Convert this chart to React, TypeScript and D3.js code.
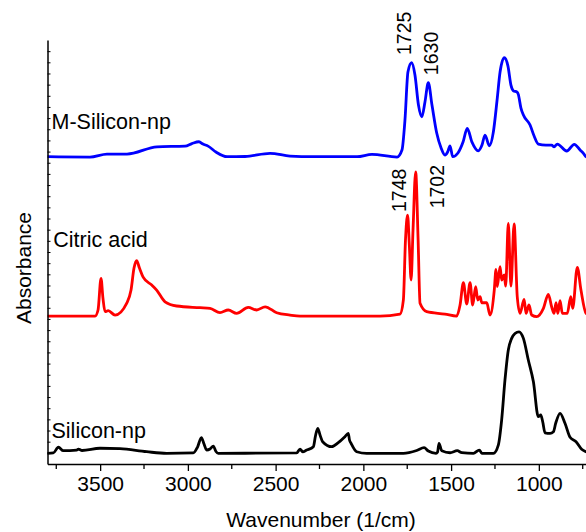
import { useEffect, useRef } from "react";
import * as d3 from "d3";

// [wavenumber (1/cm), absorbance, offset included]
const mSiliconNp: [number, number][] = [
    [3800, 2.754], [3558, 2.751], [3461, 2.778], [3347, 2.778], [3176, 2.843],
    [3016, 2.849], [2977, 2.872], [2937, 2.888], [2914, 2.867], [2885, 2.849],
    [2840, 2.796], [2777, 2.754], [2674, 2.756], [2532, 2.784], [2418, 2.76],
    [2287, 2.754], [2036, 2.754], [1951, 2.775], [1808, 2.751], [1780, 2.814],
    [1763, 3.082], [1746, 3.513], [1725, 3.596], [1706, 3.486], [1686, 3.217],
    [1667, 3.112], [1649, 3.244], [1630, 3.417], [1609, 3.217], [1582, 2.966],
    [1557, 2.832], [1535, 2.769], [1520, 2.796], [1506, 2.852], [1491, 2.754],
    [1461, 2.787], [1432, 2.885], [1408, 3.008], [1381, 2.885], [1345, 2.807],
    [1324, 2.858], [1307, 2.948], [1282, 2.852], [1259, 2.978], [1238, 3.262],
    [1221, 3.513], [1197, 3.641], [1176, 3.566], [1159, 3.396], [1145, 3.345],
    [1124, 3.333], [1117, 3.313], [1102, 3.19], [1088, 3.127], [1050, 3.038],
    [1027, 2.939], [1003, 2.867], [960, 2.858], [927, 2.858], [913, 2.843],
    [895, 2.867], [841, 2.805], [798, 2.865], [765, 2.814], [746, 2.784],
    [731, 2.754], [700, 2.745], [650, 2.745],
];

const citricAcid: [number, number][] = [
    [3800, 1.326], [3529, 1.326], [3512, 1.38], [3495, 1.664], [3484, 1.487],
    [3472, 1.365], [3454, 1.374], [3415, 1.335], [3349, 1.44], [3324, 1.559],
    [3307, 1.756], [3292, 1.822], [3276, 1.756], [3254, 1.673], [3206, 1.604],
    [3178, 1.559], [3130, 1.454], [3064, 1.416], [2931, 1.401], [2874, 1.395],
    [2817, 1.356], [2770, 1.38], [2722, 1.35], [2656, 1.404], [2608, 1.38],
    [2560, 1.409], [2494, 1.356], [2418, 1.335], [2361, 1.326], [1905, 1.326],
    [1791, 1.344], [1772, 1.47], [1760, 2.007], [1748, 2.231], [1738, 1.962],
    [1728, 1.649], [1717, 2.097], [1702, 2.619], [1688, 2.007], [1677, 1.44],
    [1639, 1.365], [1535, 1.344], [1468, 1.326], [1449, 1.425], [1430, 1.625],
    [1411, 1.434], [1392, 1.625], [1377, 1.425], [1360, 1.589], [1348, 1.47],
    [1335, 1.499], [1325, 1.445], [1297, 1.445], [1278, 1.335], [1254, 1.559],
    [1244, 1.745], [1237, 1.589], [1221, 1.768], [1212, 1.649], [1197, 1.694],
    [1189, 1.595], [1174, 2.157], [1159, 1.595], [1141, 2.151], [1123, 1.499],
    [1107, 1.35], [1084, 1.476], [1073, 1.35], [1056, 1.425], [1041, 1.335],
    [1012, 1.32], [974, 1.395], [946, 1.521], [927, 1.409], [913, 1.35],
    [902, 1.445], [892, 1.35], [879, 1.463], [866, 1.35], [838, 1.35],
    [818, 1.499], [807, 1.395], [781, 1.763], [760, 1.559], [731, 1.35],
    [700, 1.33], [650, 1.33],
];

const siliconNp: [number, number][] = [
    [3800, 0.096], [3767, 0.099], [3738, 0.15], [3710, 0.119], [3634, 0.125],
    [3624, 0.134], [3603, 0.121], [3501, 0.141], [3387, 0.137], [3235, 0.11],
    [3121, 0.096], [2969, 0.099], [2945, 0.152], [2923, 0.237], [2908, 0.179],
    [2893, 0.125], [2874, 0.134], [2855, 0.161], [2840, 0.112], [2827, 0.096],
    [2380, 0.099], [2361, 0.134], [2346, 0.11], [2323, 0.125], [2285, 0.155],
    [2273, 0.251], [2260, 0.32], [2247, 0.26], [2232, 0.2], [2180, 0.155],
    [2143, 0.191], [2105, 0.245], [2086, 0.275], [2079, 0.215], [2070, 0.185],
    [2038, 0.11], [1981, 0.096], [1772, 0.096], [1696, 0.121], [1654, 0.146],
    [1630, 0.116], [1586, 0.096], [1577, 0.108], [1569, 0.185], [1553, 0.119],
    [1506, 0.101], [1465, 0.119], [1439, 0.101], [1373, 0.096], [1339, 0.125],
    [1325, 0.096], [1259, 0.096], [1231, 0.17], [1212, 0.394], [1193, 0.753],
    [1174, 1.022], [1155, 1.126], [1136, 1.169], [1113, 1.185], [1088, 1.126],
    [1060, 0.932], [1031, 0.737], [1003, 0.424], [989, 0.439], [978, 0.379],
    [965, 0.28], [936, 0.275], [917, 0.289], [904, 0.365], [879, 0.454],
    [851, 0.365], [822, 0.239], [788, 0.2], [756, 0.132], [731, 0.11],
    [700, 0.1], [650, 0.1],
];

const seriesNames = ["M-Silicon-np", "Citric acid", "Silicon-np"];
const seriesColors = ["#0000ff", "#ff0000", "#000000"];
// label anchor: [wavenumber, absorbance]
const seriesLabelAt: [number, number][] = [[3780, 3.0], [3770, 1.947], [3780, 0.236]];

const xMajorTicks = [3500, 3000, 2500, 2000, 1500, 1000];
const xMinorTicks = [3750, 3250, 2750, 2250, 1750, 1250, 750];

// peak annotations: [text, wavenumber of baseline, absorbance where text starts]
const peakLabels: [string, number, number][] = [
    ["1725", 1726, 3.665],
    ["1630", 1575, 3.485],
    ["1748", 1757, 2.258],
    ["1702", 1540, 2.291],
];

export default function App() {
    const svgRef = useRef<SVGSVGElement | null>(null);

    useEffect(() => {
        if (!svgRef.current) return;
        d3.select(svgRef.current).selectAll("*").remove();

        const width = 586;
        const height = 532;
        const margin = { top: 40, left: 47.5, bottom: 68 };

        const svg = d3.select(svgRef.current)
            .attr("width", width)
            .attr("height", height)
            .style("font-family", "'Liberation Sans', Arial, sans-serif");

        const x = d3.scaleLinear().domain([3800, 650]).range([margin.left, margin.left + 3150 * 0.17548]);
        const y = d3.scaleLinear().domain([0, 3.8]).range([height - margin.bottom, margin.top]);

        const all = [mSiliconNp, citricAcid, siliconNp];
        const line = d3.line<[number, number]>()
            .x((d) => x(d[0]))
            .y((d) => y(d[1]))
            .curve(d3.curveMonotoneX);

        svg.selectAll(".spec")
            .data(all)
            .enter()
            .append("path")
            .attr("class", "spec")
            .attr("d", (d) => line(d))
            .attr("fill", "none")
            .attr("stroke", (_, i) => seriesColors[i])
            .attr("stroke-width", 2.8)
            .attr("stroke-linejoin", "round");

        // X axis
        const xAxis = svg.append("g")
            .attr("transform", `translate(0,${y(0)})`)
            .call(d3.axisBottom(x).tickValues(xMajorTicks).tickSize(7).tickSizeOuter(0).tickFormat((d) => `${d}`));
        xAxis.attr("font-family", null);
        xAxis.select(".domain").attr("stroke-width", 1.5);
        xAxis.selectAll(".tick line").attr("stroke-width", 1.3);
        xAxis.selectAll("text").attr("font-size", "21px").attr("dy", "0.82em").attr("fill", "#000");

        svg.append("g")
            .selectAll("line")
            .data(xMinorTicks)
            .enter()
            .append("line")
            .attr("x1", (d) => x(d))
            .attr("x2", (d) => x(d))
            .attr("y1", y(0))
            .attr("y2", y(0) + 5)
            .attr("stroke", "#000")
            .attr("stroke-width", 1.3);

        // Y axis (no labels, small inward ticks)
        const yAxis = svg.append("g")
            .attr("transform", `translate(${margin.left},0)`)
            .call(d3.axisLeft(y).tickValues(d3.range(1, 38).map((v) => v / 10)).tickSize(-3).tickSizeOuter(0).tickFormat(() => ""));
        yAxis.select(".domain").attr("stroke-width", 1.5);

        svg.append("text")
            .attr("x", 321)
            .attr("y", 527)
            .attr("text-anchor", "middle")
            .attr("font-size", "21px")
            .text("Wavenumber (1/cm)");

        svg.append("text")
            .attr("transform", `translate(31,${(y(0) + y(3.8)) / 2 + 16}) rotate(-90)`)
            .attr("text-anchor", "middle")
            .attr("font-size", "21px")
            .text("Absorbance");

        // series labels
        svg.selectAll(".slabel")
            .data(seriesNames)
            .enter()
            .append("text")
            .attr("class", "slabel")
            .attr("x", (_, i) => x(seriesLabelAt[i][0]) + 0.5)
            .attr("y", (_, i) => y(seriesLabelAt[i][1]))
            .attr("font-size", "21.5px")
            .text((d) => d);

        // peak labels
        svg.selectAll(".plabel")
            .data(peakLabels)
            .enter()
            .append("text")
            .attr("class", "plabel")
            .attr("transform", (d) => `translate(${x(d[1])},${y(d[2])}) rotate(-90)`)
            .attr("font-size", "19.5px")
            .text((d) => d[0]);
    }, []);

    return (
        <>
            <style>{`body{margin:0}`}</style>
            <svg ref={svgRef} style={{ display: "block" }} />
        </>
    );
}
